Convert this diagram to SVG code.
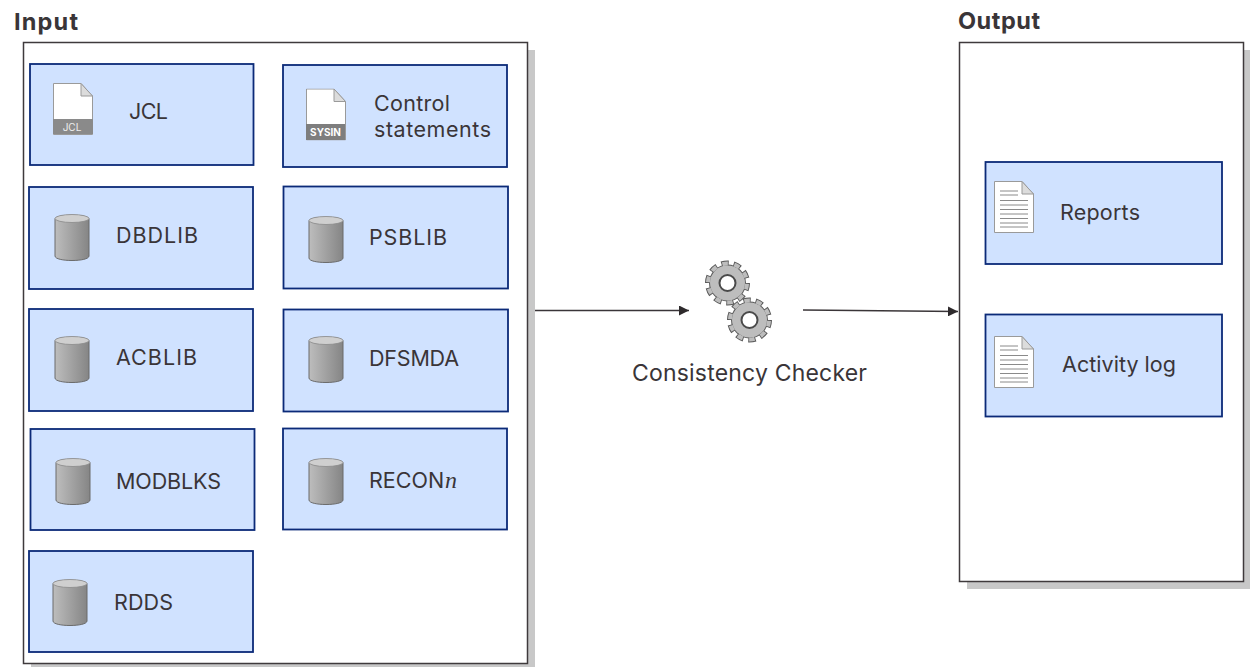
<svg xmlns="http://www.w3.org/2000/svg" xmlns:xlink="http://www.w3.org/1999/xlink" width="1250" height="667" viewBox="0 0 1250 667">
<style>
text{font-family:Inter,"Noto Sans","Liberation Sans",sans-serif;font-size:21.500px;fill:#3a3538}
.h{font-weight:700;font-size:23.500px}
.box{fill:#d0e2ff;stroke:#0b2a78;stroke-width:1.8}
.frame{fill:#fff;stroke:#3f3a3c;stroke-width:1.5}
.shadow{fill:#c8c8c8}
.tag{font-size:10px;fill:#eee;text-anchor:middle}
.tagb{font-size:10px;fill:#fff;font-weight:700;text-anchor:middle}
.wire{fill:none;stroke:#3a3538;stroke-width:1.5;marker-end:url(#arr)}
.rule{stroke:#8a8a8a;stroke-width:1}
</style>
<defs>
<marker id="arr" markerUnits="userSpaceOnUse" markerWidth="11" markerHeight="10" refX="10" refY="5" orient="auto"><path d="M0 0L10 5L0 10z" fill="#2e2a2c"/></marker>
<linearGradient id="cyl"><stop offset="0" stop-color="#bdbdbd"/><stop offset="1" stop-color="#858585"/></linearGradient>
<symbol id="db" width="36" height="50" viewBox="0 0 36 50" overflow="visible"><path d="M1 7C1 2 35 2 35 7V44C35 50 1 50 1 44z" fill="url(#cyl)" stroke="#6b6b6b"/><ellipse cx="18" cy="6.500" rx="17" ry="4" fill="#cfcfcf" stroke="#8a8a8a" stroke-width=".8"/></symbol>
<symbol id="page" width="40" height="52" viewBox="0 0 40 52"><path d="M.5 .5H28L39.500 13V51.500H.5z" fill="#fff" stroke="#9a9a9a"/><path d="M28 .5V13H39.500z" fill="#dcdcdc" stroke="#9a9a9a"/></symbol>
<symbol id="report" width="40" height="52" viewBox="0 0 40 52"><use href="#page"/><path class="rule" d="M6 10H24M6 14H24M6 19.500H34M6 24H34M6 28.500H34M6 33H34M6 37.500H34M6 42H34M6 46H34"/></symbol>
<g id="gear"><circle r="18.500" fill="#5a5a5a"/><circle r="20" fill="none" stroke="#5a5a5a" stroke-width="5" pathLength="100" stroke-dasharray="6 4"/><circle r="17.500" fill="#bdbdbd"/><circle r="19.500" fill="none" stroke="#bdbdbd" stroke-width="4" pathLength="100" stroke-dasharray="4.600 5.400" stroke-dashoffset="-.7"/><circle r="8" fill="#fff" stroke="#4a4a4a" stroke-width="2"/></g>
</defs>
<g id="input-frame"><rect class="shadow" x="31" y="50" width="504" height="617"/><rect class="frame" x="23.500" y="42.500" width="504" height="621"/><text class="h" x="14" y="30" textLength="64">Input</text></g>
<g id="output-frame"><rect class="shadow" x="967" y="50" width="284" height="539"/><rect class="frame" x="959.500" y="42.500" width="284" height="539"/><text class="h" x="958" y="29" textLength="82">Output</text></g>
<g id="connectors"><path class="wire" d="M535 310.500H689"/><path class="wire" d="M803 310L958 311.500"/></g>
<g id="jcl"><rect class="box" x="30" y="64" width="223.500" height="101"/><use href="#page" x="53" y="83"/><rect x="53" y="119" width="40" height="15" fill="#8a8a8a"/><text class="tag" x="72" y="131">JCL</text><text x="129" y="119" textLength="39">JCL</text></g>
<g id="control"><rect class="box" x="283" y="65" width="224" height="102"/><use href="#page" x="306" y="88.500"/><rect x="306" y="124" width="39" height="16" fill="#7e7e7e"/><text class="tagb" x="325.500" y="135.500">SYSIN</text><text x="374" y="111" textLength="76">Control</text><text x="374" y="137" textLength="117">statements</text></g>
<g id="dbdlib"><rect class="box" x="29" y="187" width="224" height="102"/><use href="#db" x="54" y="212"/><text x="116" y="243" textLength="82">DBDLIB</text></g>
<g id="psblib"><rect class="box" x="283.500" y="186.500" width="224.500" height="102"/><use href="#db" x="308" y="214"/><text x="369" y="245" textLength="78">PSBLIB</text></g>
<g id="acblib"><rect class="box" x="29" y="309" width="224" height="102"/><use href="#db" x="54" y="334"/><text x="116" y="365" textLength="81">ACBLIB</text></g>
<g id="dfsmda"><rect class="box" x="283.500" y="309.500" width="224.500" height="102"/><use href="#db" x="308" y="334"/><text x="369" y="366" textLength="90">DFSMDA</text></g>
<g id="modblks"><rect class="box" x="30.500" y="429" width="224" height="101"/><use href="#db" x="55" y="456"/><text x="116" y="489" textLength="105">MODBLKS</text></g>
<g id="recon"><rect class="box" x="283" y="428.500" width="224" height="101"/><use href="#db" x="308" y="456"/><text x="369" y="488">RECON<tspan dx="1" font-family="Liberation Serif" font-style="italic" font-size="24">n</tspan></text></g>
<g id="rdds"><rect class="box" x="29" y="551" width="224" height="101"/><use href="#db" x="52" y="577"/><text x="114" y="610" textLength="59">RDDS</text></g>
<g id="consistency-checker"><use href="#gear" x="727.500" y="283"/><use href="#gear" x="749.500" y="320"/><text x="632" y="381" textLength="235" style="font-size:23px">Consistency Checker</text></g>
<g id="reports"><rect class="box" x="985.500" y="162" width="236.500" height="102"/><use href="#report" x="994" y="181"/><text x="1060" y="220" textLength="80">Reports</text></g>
<g id="activity-log"><rect class="box" x="985.500" y="314.500" width="236.500" height="102"/><use href="#report" x="994" y="336"/><text x="1062" y="372" textLength="114">Activity log</text></g>
</svg>
